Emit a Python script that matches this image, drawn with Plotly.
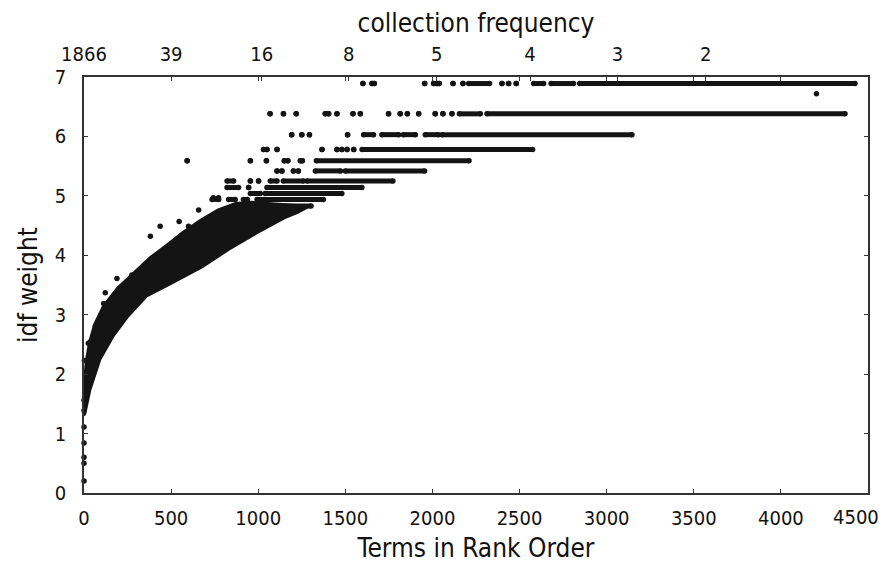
import plotly.graph_objects as go

# ---------------- data ----------------
# dense cloud of low-rank terms: upper (left) edge and lower (right) edge
band_upper_rank = [0, 3, 12, 30, 60, 110, 190, 300, 380, 470, 570, 670, 770, 870, 960]
band_upper_idf = [1.45, 1.98, 2.25, 2.55, 2.85, 3.15, 3.45, 3.76, 3.97, 4.17, 4.40, 4.60, 4.77, 4.88, 4.9]
band_lower_rank = [1300, 1230, 1150, 1010, 830, 680, 500, 361, 254, 168, 93, 36, 8, 0]
band_lower_idf = [4.83, 4.72, 4.62, 4.40, 4.09, 3.80, 3.52, 3.31, 2.97, 2.63, 2.24, 1.73, 1.34, 1.3]

# discrete idf levels: runs of terms (start rank, end rank); single terms have start == end
run_idf = (
    [6.89] * 16 + [6.38] * 17 + [6.03] * 9 + [5.78] * 9 + [5.59] * 8 + [5.42] * 6
    + [5.25] * 6 + [5.14] * 3 + [5.04] * 2 + [4.94] * 4 + [4.83] * 1
)
run_start = (
    [1601, 1653, 1666, 1955, 2007, 2026, 2039, 2118, 2175, 2208, 2399, 2437, 2481, 2581, 2681, 2845]
    + [1068, 1145, 1218, 1385, 1404, 1452, 1544, 1586, 1748, 1815, 1856, 1921, 2016, 2060, 2112, 2155, 2313]
    + [1192, 1250, 1294, 1513, 1605, 1710, 1833, 1959, 2055]
    + [1031, 1050, 1108, 1366, 1452, 1480, 1510, 1548, 1596]
    + [592, 955, 1047, 1150, 1170, 1242, 1253, 1334]
    + [1108, 1136, 1202, 1230, 1328, 1500]
    + [821, 955, 1002, 1069, 1144, 1280]
    + [821, 945, 1050]
    + [955, 1040]
    + [735, 830, 915, 993]
    + [993]
)
run_end = (
    [1601, 1653, 1666, 1955, 2007, 2026, 2039, 2118, 2175, 2328, 2399, 2437, 2481, 2638, 2810, 4425]
    + [1068, 1145, 1218, 1385, 1404, 1452, 1544, 1586, 1748, 1815, 1856, 1921, 2016, 2060, 2112, 2275, 4368]
    + [1192, 1250, 1294, 1513, 1662, 1806, 1902, 2034, 3145]
    + [1031, 1050, 1108, 1366, 1452, 1480, 1510, 1548, 2575]
    + [592, 955, 1047, 1150, 1170, 1242, 1253, 2210]
    + [1108, 1136, 1202, 1230, 1472, 1955]
    + [859, 955, 1002, 1108, 1259, 1773]
    + [887, 945, 1595]
    + [1012, 1480]
    + [773, 868, 938, 1374]
    + [1303]
)

# isolated terms outside the dense cloud
single_rank = [0, 0, 0, 0, 0, 0, 0, 2, 25, 36, 65, 113, 122, 151, 189, 275,
               381, 437, 546, 600, 658, 742, 772, 4204]
single_idf = [0.20, 0.50, 0.60, 0.84, 1.11, 1.39, 1.56, 2.23, 2.52, 2.54, 2.80, 3.19, 3.37, 3.13,
              3.61, 3.67, 4.32, 4.49, 4.57, 4.49, 4.76, 4.97, 4.97, 6.72]

# top axis: collection frequency at rank positions
top_rank = [0, 500, 1020, 1520, 2025, 2560, 3062, 3568]
top_label = ["1866", "39", "16", "8", "5", "4", "3", "2"]

x_ticks = [0, 500, 1000, 1500, 2000, 2500, 3000, 3500, 4000, 4500]
x_labels = ["0", "500", "1000", "1500", "2000", "2500", "3000", "3500", "4000", "4500"]
y_ticks = [0, 1, 2, 3, 4, 5, 6, 7]

# ---------------- figure ----------------
INK = "#141414"
FONT = "DejaVu Sans Condensed, Liberation Sans Narrow, sans-serif"
TICK_SIZE = 20
TITLE_SIZE = 26

band_x = band_upper_rank + band_lower_rank
band_y = band_upper_idf + band_lower_idf

run_x, run_y = [], []
for lv, s, e in zip(run_idf, run_start, run_end):
    run_x += [s, e, None]
    run_y += [lv, lv, None]

fig = go.Figure()
fig.add_trace(go.Scatter(x=band_x, y=band_y, mode="lines", fill="toself",
                         fillcolor=INK, line=dict(color=INK, width=2),
                         hoverinfo="skip", showlegend=False))
fig.add_trace(go.Scatter(x=run_x, y=run_y, mode="lines+markers",
                         line=dict(color=INK, width=5),
                         marker=dict(color=INK, size=5.5),
                         showlegend=False))
fig.add_trace(go.Scatter(x=single_rank, y=single_idf, mode="markers",
                         marker=dict(color=INK, size=5.5),
                         cliponaxis=False, showlegend=False))
fig.add_trace(go.Scatter(x=[], y=[], xaxis="x2", showlegend=False))

axis_common = dict(showgrid=False, zeroline=False, ticks="inside", ticklen=4,
                   tickcolor="#333", tickwidth=1.2, automargin=False,
                   tickfont=dict(family=FONT, size=TICK_SIZE, color="#111"))

# the last bottom label is drawn as an annotation, pulled left so it stays on the page
bottom_ticktext = x_labels[:-1] + [""]

# page body has an 8px margin, so the figure is 880x567 and placed at (8, 8)
fig.update_layout(
    width=880, height=567,
    margin=dict(l=76, r=20, t=69, b=82),
    paper_bgcolor="white", plot_bgcolor="white",
    font=dict(family=FONT, color="#111"),
    xaxis=dict(range=[0, 4500], tickvals=x_ticks, ticktext=bottom_ticktext, showline=True,
               linecolor="#333", linewidth=1.5, mirror="ticks", ticklabelstandoff=6,
               title=dict(text="Terms in Rank Order",
                          font=dict(family=FONT, size=TITLE_SIZE, color="#111"), standoff=10),
               **axis_common),
    xaxis2=dict(range=[0, 4500], overlaying="x", side="top", tickvals=top_rank,
                ticktext=top_label, showline=False, ticklabelstandoff=11,
                ticklabeloverflow="allow",
                title=dict(text="collection frequency",
                           font=dict(family=FONT, size=TITLE_SIZE, color="#111"), standoff=8),
                **axis_common),
    yaxis=dict(range=[0, 7], tickvals=y_ticks, showline=True, linecolor="#333",
               linewidth=1.5, mirror="ticks", ticklabelstandoff=12,
               title=dict(text="idf weight",
                          font=dict(family=FONT, size=TITLE_SIZE, color="#111"), standoff=10),
               **axis_common),
)
fig.add_annotation(x=x_ticks[-1], y=0, xref="x", yref="y", text=x_labels[-1],
                   showarrow=False, xanchor="right", yanchor="top", xshift=13, yshift=-10,
                   font=dict(family=FONT, size=TICK_SIZE, color="#111"))

fig.write_html("out.html")
